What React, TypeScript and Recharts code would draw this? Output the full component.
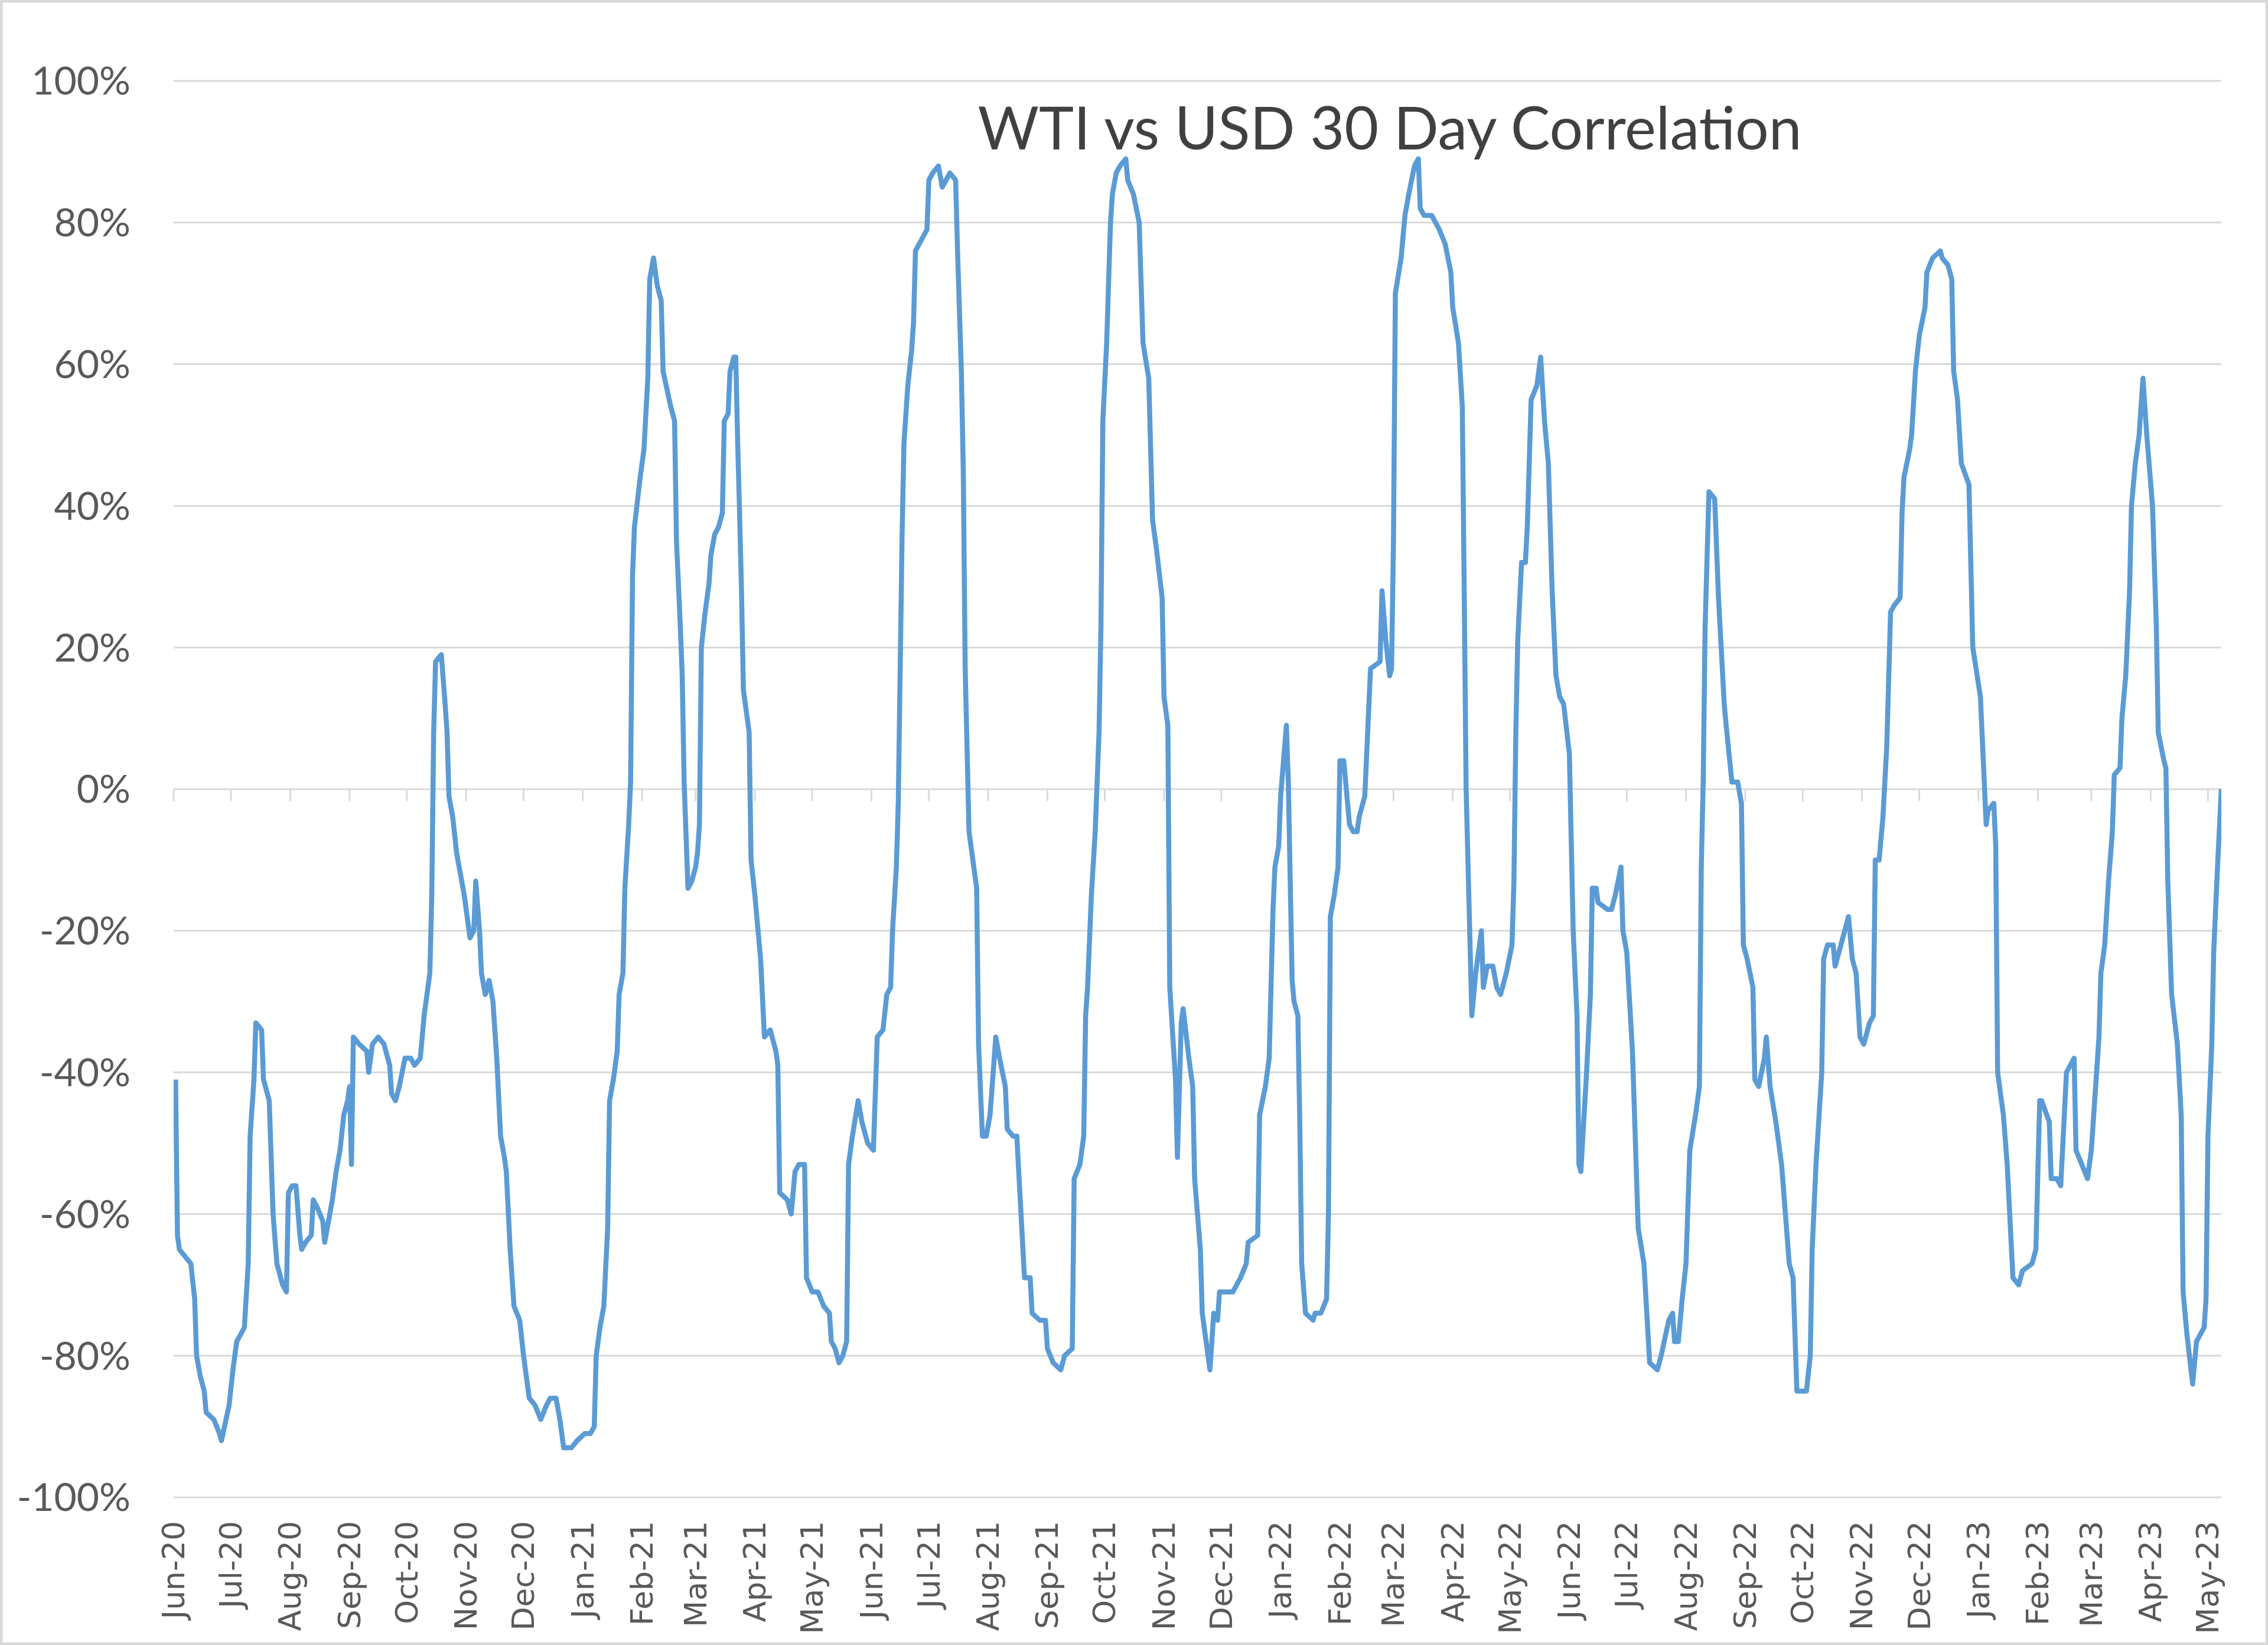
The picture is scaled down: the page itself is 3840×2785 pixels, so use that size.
import { LineChart, Line, XAxis, YAxis, CartesianGrid, ReferenceLine } from "recharts";

const MONTHS = ["Jan", "Feb", "Mar", "Apr", "May", "Jun", "Jul", "Aug", "Sep", "Oct", "Nov", "Dec"];

// month labels along the bottom, one per month start
const tickMonths = [
  "Jun-20", "Jul-20", "Aug-20", "Sep-20", "Oct-20", "Nov-20", "Dec-20",
  "Jan-21", "Feb-21", "Mar-21", "Apr-21", "May-21", "Jun-21", "Jul-21", "Aug-21", "Sep-21", "Oct-21", "Nov-21", "Dec-21",
  "Jan-22", "Feb-22", "Mar-22", "Apr-22", "May-22", "Jun-22", "Jul-22", "Aug-22", "Sep-22", "Oct-22", "Nov-22", "Dec-22",
  "Jan-23", "Feb-23", "Mar-23", "Apr-23", "May-23",
];

const yTicks = [-100, -80, -60, -40, -20, 0, 20, 40, 60, 80, 100];

// 30 day correlation (%)
const readings2020: [string, number][] = [
  ["2020-06-02", -41], ["2020-06-03", -63], ["2020-06-04", -65], ["2020-06-07", -66], ["2020-06-10", -67],
  ["2020-06-12", -72], ["2020-06-13", -80], ["2020-06-15", -83], ["2020-06-17", -85], ["2020-06-18", -88],
  ["2020-06-22", -89], ["2020-06-25", -91], ["2020-06-26", -92], ["2020-06-30", -87],
  ["2020-07-02", -82], ["2020-07-04", -78], ["2020-07-08", -76], ["2020-07-10", -67], ["2020-07-11", -49],
  ["2020-07-13", -41], ["2020-07-14", -33], ["2020-07-17", -34], ["2020-07-18", -41], ["2020-07-21", -44],
  ["2020-07-23", -60], ["2020-07-25", -67], ["2020-07-28", -70], ["2020-07-30", -71], ["2020-07-31", -57],
  ["2020-08-02", -56], ["2020-08-04", -56], ["2020-08-06", -63], ["2020-08-07", -65], ["2020-08-09", -64],
  ["2020-08-12", -63], ["2020-08-13", -58], ["2020-08-15", -59], ["2020-08-18", -61], ["2020-08-19", -64],
  ["2020-08-21", -61], ["2020-08-23", -58], ["2020-08-25", -54], ["2020-08-27", -51], ["2020-08-29", -46],
  ["2020-08-31", -44],
  ["2020-09-01", -42], ["2020-09-02", -53], ["2020-09-03", -35], ["2020-09-06", -36], ["2020-09-10", -37],
  ["2020-09-11", -40], ["2020-09-13", -36], ["2020-09-16", -35], ["2020-09-19", -36], ["2020-09-22", -39],
  ["2020-09-23", -43], ["2020-09-25", -44], ["2020-09-27", -42], ["2020-09-30", -38],
  ["2020-10-03", -38], ["2020-10-05", -39], ["2020-10-08", -38], ["2020-10-10", -32], ["2020-10-13", -26],
  ["2020-10-14", -15], ["2020-10-15", 8], ["2020-10-16", 18], ["2020-10-19", 19], ["2020-10-21", 12],
  ["2020-10-22", 8], ["2020-10-23", -1], ["2020-10-25", -4], ["2020-10-27", -9], ["2020-10-29", -12],
  ["2020-10-31", -15],
  ["2020-11-02", -19], ["2020-11-03", -21], ["2020-11-05", -20], ["2020-11-06", -13], ["2020-11-08", -20],
  ["2020-11-09", -26], ["2020-11-11", -29], ["2020-11-13", -27], ["2020-11-15", -30], ["2020-11-17", -38],
  ["2020-11-19", -49], ["2020-11-21", -52], ["2020-11-22", -54], ["2020-11-24", -65], ["2020-11-26", -73],
  ["2020-11-29", -75],
  ["2020-12-01", -80], ["2020-12-04", -86], ["2020-12-07", -87], ["2020-12-10", -89], ["2020-12-13", -87],
  ["2020-12-15", -86], ["2020-12-18", -86], ["2020-12-20", -89], ["2020-12-22", -93], ["2020-12-26", -93],
  ["2020-12-29", -92],
];

const readings2021: [string, number][] = [
  ["2021-01-02", -91], ["2021-01-05", -91], ["2021-01-07", -90], ["2021-01-08", -80], ["2021-01-10", -76],
  ["2021-01-12", -73], ["2021-01-14", -62], ["2021-01-15", -44], ["2021-01-17", -41], ["2021-01-19", -37],
  ["2021-01-20", -29], ["2021-01-22", -26], ["2021-01-23", -14], ["2021-01-25", -5], ["2021-01-26", 1],
  ["2021-01-27", 30], ["2021-01-28", 37], ["2021-01-31", 44],
  ["2021-02-02", 48], ["2021-02-04", 58], ["2021-02-05", 72], ["2021-02-07", 75], ["2021-02-09", 71],
  ["2021-02-11", 69], ["2021-02-12", 59], ["2021-02-16", 54], ["2021-02-18", 52], ["2021-02-19", 35],
  ["2021-02-21", 23], ["2021-02-22", 16], ["2021-02-23", 1], ["2021-02-25", -14], ["2021-02-27", -13],
  ["2021-03-01", -11], ["2021-03-02", -9], ["2021-03-03", -5], ["2021-03-04", 20], ["2021-03-06", 25],
  ["2021-03-08", 29], ["2021-03-09", 33], ["2021-03-11", 36], ["2021-03-13", 37], ["2021-03-15", 39],
  ["2021-03-16", 52], ["2021-03-18", 53], ["2021-03-19", 59], ["2021-03-21", 61], ["2021-03-22", 61],
  ["2021-03-23", 49], ["2021-03-24", 39], ["2021-03-25", 28], ["2021-03-26", 14], ["2021-03-29", 8],
  ["2021-03-30", -10],
  ["2021-04-01", -15], ["2021-04-04", -24], ["2021-04-06", -35], ["2021-04-09", -34], ["2021-04-12", -37],
  ["2021-04-13", -39], ["2021-04-14", -57], ["2021-04-18", -58], ["2021-04-20", -60], ["2021-04-22", -54],
  ["2021-04-24", -53], ["2021-04-27", -53], ["2021-04-28", -69],
  ["2021-05-01", -71], ["2021-05-04", -71], ["2021-05-07", -73], ["2021-05-10", -74], ["2021-05-11", -78],
  ["2021-05-13", -79], ["2021-05-15", -81], ["2021-05-17", -80], ["2021-05-19", -78], ["2021-05-20", -53],
  ["2021-05-22", -49], ["2021-05-25", -44], ["2021-05-27", -47], ["2021-05-30", -50],
  ["2021-06-02", -51], ["2021-06-04", -35], ["2021-06-07", -34], ["2021-06-09", -29], ["2021-06-11", -28],
  ["2021-06-12", -20], ["2021-06-14", -11], ["2021-06-15", -2], ["2021-06-17", 36], ["2021-06-18", 49],
  ["2021-06-20", 57], ["2021-06-22", 62], ["2021-06-23", 66], ["2021-06-24", 76], ["2021-06-30", 79],
  ["2021-07-01", 86], ["2021-07-03", 87], ["2021-07-06", 88], ["2021-07-08", 85], ["2021-07-10", 86],
  ["2021-07-12", 87], ["2021-07-15", 86], ["2021-07-16", 76], ["2021-07-18", 59], ["2021-07-19", 45],
  ["2021-07-20", 17], ["2021-07-22", -6], ["2021-07-24", -10], ["2021-07-26", -14], ["2021-07-27", -36],
  ["2021-07-29", -49], ["2021-07-31", -49],
  ["2021-08-02", -46], ["2021-08-05", -35], ["2021-08-07", -38], ["2021-08-10", -42], ["2021-08-11", -48],
  ["2021-08-14", -49], ["2021-08-16", -49], ["2021-08-18", -59], ["2021-08-20", -69], ["2021-08-23", -69],
  ["2021-08-24", -74], ["2021-08-28", -75], ["2021-08-31", -75],
  ["2021-09-01", -79], ["2021-09-04", -81], ["2021-09-08", -82], ["2021-09-10", -80], ["2021-09-14", -79],
  ["2021-09-15", -55], ["2021-09-18", -53], ["2021-09-20", -49], ["2021-09-21", -32], ["2021-09-22", -28],
  ["2021-09-24", -15], ["2021-09-26", -6], ["2021-09-28", 8], ["2021-09-29", 23], ["2021-09-30", 52],
  ["2021-10-02", 63], ["2021-10-04", 80], ["2021-10-05", 84], ["2021-10-07", 87], ["2021-10-09", 88],
  ["2021-10-12", 89], ["2021-10-13", 86], ["2021-10-16", 84], ["2021-10-19", 80], ["2021-10-21", 63],
  ["2021-10-24", 58], ["2021-10-26", 38], ["2021-10-28", 34], ["2021-10-31", 27],
  ["2021-11-01", 13], ["2021-11-03", 9], ["2021-11-04", -28], ["2021-11-07", -41], ["2021-11-08", -52],
  ["2021-11-10", -33], ["2021-11-11", -31], ["2021-11-14", -38], ["2021-11-16", -42], ["2021-11-17", -55],
  ["2021-11-20", -65], ["2021-11-21", -74], ["2021-11-24", -80], ["2021-11-25", -82], ["2021-11-27", -74],
  ["2021-11-29", -75], ["2021-11-30", -71],
  ["2021-12-04", -71], ["2021-12-07", -71], ["2021-12-11", -69], ["2021-12-14", -67], ["2021-12-15", -64],
  ["2021-12-20", -63], ["2021-12-21", -46], ["2021-12-24", -42], ["2021-12-26", -38], ["2021-12-28", -17],
  ["2021-12-29", -11], ["2021-12-31", -8],
];

const readings2022: [string, number][] = [
  ["2022-01-01", -1], ["2022-01-04", 9], ["2022-01-05", 1], ["2022-01-07", -27], ["2022-01-08", -30],
  ["2022-01-10", -32], ["2022-01-11", -47], ["2022-01-12", -67], ["2022-01-14", -74], ["2022-01-18", -75],
  ["2022-01-19", -74], ["2022-01-22", -74], ["2022-01-25", -72], ["2022-01-26", -60], ["2022-01-27", -18],
  ["2022-01-29", -15], ["2022-01-31", -11],
  ["2022-02-01", 4], ["2022-02-03", 4], ["2022-02-05", -2], ["2022-02-06", -5], ["2022-02-08", -6],
  ["2022-02-10", -6], ["2022-02-11", -4], ["2022-02-14", -1], ["2022-02-17", 17], ["2022-02-22", 18],
  ["2022-02-23", 28], ["2022-02-25", 21], ["2022-02-27", 16], ["2022-02-28", 17],
  ["2022-03-01", 35], ["2022-03-02", 70], ["2022-03-05", 75], ["2022-03-07", 81], ["2022-03-09", 84],
  ["2022-03-12", 88], ["2022-03-14", 89], ["2022-03-15", 82], ["2022-03-17", 81], ["2022-03-21", 81],
  ["2022-03-25", 79], ["2022-03-28", 77], ["2022-03-31", 73],
  ["2022-04-01", 68], ["2022-04-04", 63], ["2022-04-06", 54], ["2022-04-07", 28], ["2022-04-08", 0],
  ["2022-04-11", -32], ["2022-04-13", -26], ["2022-04-16", -20], ["2022-04-17", -28], ["2022-04-19", -25],
  ["2022-04-22", -25], ["2022-04-24", -28], ["2022-04-26", -29], ["2022-04-29", -26],
  ["2022-05-02", -22], ["2022-05-03", -13], ["2022-05-04", 8], ["2022-05-05", 21], ["2022-05-07", 32],
  ["2022-05-09", 32], ["2022-05-10", 37], ["2022-05-12", 55], ["2022-05-15", 57], ["2022-05-17", 61],
  ["2022-05-19", 52], ["2022-05-21", 46], ["2022-05-23", 28], ["2022-05-25", 16], ["2022-05-27", 13],
  ["2022-05-29", 12],
  ["2022-06-01", 5], ["2022-06-03", -20], ["2022-06-05", -32], ["2022-06-06", -53], ["2022-06-07", -54],
  ["2022-06-10", -40], ["2022-06-12", -29], ["2022-06-13", -14], ["2022-06-15", -14], ["2022-06-16", -16],
  ["2022-06-21", -17], ["2022-06-23", -17], ["2022-06-25", -15], ["2022-06-28", -11], ["2022-06-29", -20],
  ["2022-07-01", -23], ["2022-07-04", -37], ["2022-07-07", -62], ["2022-07-10", -67], ["2022-07-13", -81],
  ["2022-07-17", -82], ["2022-07-19", -80], ["2022-07-23", -75], ["2022-07-25", -74], ["2022-07-26", -78],
  ["2022-07-28", -78], ["2022-07-30", -72],
  ["2022-08-01", -67], ["2022-08-03", -51], ["2022-08-06", -46], ["2022-08-08", -42], ["2022-08-09", -11],
  ["2022-08-10", 1], ["2022-08-11", 23], ["2022-08-13", 42], ["2022-08-16", 41], ["2022-08-18", 27],
  ["2022-08-21", 12], ["2022-08-22", 9], ["2022-08-25", 1], ["2022-08-26", 1], ["2022-08-28", 1],
  ["2022-08-30", -2], ["2022-08-31", -22],
  ["2022-09-02", -24], ["2022-09-05", -28], ["2022-09-06", -41], ["2022-09-08", -42], ["2022-09-11", -38],
  ["2022-09-12", -35], ["2022-09-14", -42], ["2022-09-17", -47], ["2022-09-20", -53], ["2022-09-22", -60],
  ["2022-09-24", -67], ["2022-09-26", -69], ["2022-09-28", -85],
  ["2022-10-01", -85], ["2022-10-03", -85], ["2022-10-05", -80], ["2022-10-06", -65], ["2022-10-08", -53],
  ["2022-10-11", -40], ["2022-10-12", -24], ["2022-10-14", -22], ["2022-10-17", -22], ["2022-10-18", -25],
  ["2022-10-21", -22], ["2022-10-23", -20], ["2022-10-25", -18], ["2022-10-27", -24], ["2022-10-29", -26],
  ["2022-10-31", -35],
  ["2022-11-02", -36], ["2022-11-05", -33], ["2022-11-07", -32], ["2022-11-08", -10], ["2022-11-10", -10],
  ["2022-11-12", -4], ["2022-11-14", 6], ["2022-11-16", 25], ["2022-11-18", 26], ["2022-11-21", 27],
  ["2022-11-22", 39], ["2022-11-23", 44], ["2022-11-26", 48], ["2022-11-27", 50], ["2022-11-29", 59],
  ["2022-12-01", 64], ["2022-12-04", 68], ["2022-12-05", 73], ["2022-12-08", 75], ["2022-12-12", 76],
  ["2022-12-13", 75], ["2022-12-16", 74], ["2022-12-18", 72], ["2022-12-19", 59], ["2022-12-21", 55],
  ["2022-12-23", 46], ["2022-12-27", 43], ["2022-12-29", 20],
];

const readings2023: [string, number][] = [
  ["2023-01-02", 13], ["2023-01-05", -5], ["2023-01-06", -3], ["2023-01-09", -2], ["2023-01-10", -8],
  ["2023-01-11", -40], ["2023-01-14", -46], ["2023-01-16", -53], ["2023-01-19", -69], ["2023-01-22", -70],
  ["2023-01-24", -68], ["2023-01-29", -67], ["2023-01-31", -65],
  ["2023-02-02", -44], ["2023-02-03", -44], ["2023-02-07", -47], ["2023-02-08", -55], ["2023-02-11", -55],
  ["2023-02-13", -56], ["2023-02-16", -40], ["2023-02-20", -38], ["2023-02-21", -51], ["2023-02-24", -53],
  ["2023-02-27", -55],
  ["2023-03-01", -51], ["2023-03-05", -35], ["2023-03-06", -26], ["2023-03-08", -22], ["2023-03-10", -13],
  ["2023-03-12", -6], ["2023-03-13", 2], ["2023-03-16", 3], ["2023-03-17", 10], ["2023-03-19", 16],
  ["2023-03-21", 28], ["2023-03-22", 40], ["2023-03-24", 46], ["2023-03-26", 50], ["2023-03-28", 58],
  ["2023-03-30", 50],
  ["2023-04-02", 40], ["2023-04-04", 23], ["2023-04-05", 8], ["2023-04-08", 4], ["2023-04-09", 3],
  ["2023-04-10", -13], ["2023-04-12", -29], ["2023-04-15", -36], ["2023-04-17", -46], ["2023-04-18", -71],
  ["2023-04-20", -77], ["2023-04-23", -84], ["2023-04-25", -78], ["2023-04-29", -76], ["2023-04-30", -72],
  ["2023-05-01", -49], ["2023-05-03", -36], ["2023-05-04", -23], ["2023-05-06", -11], ["2023-05-08", 0],
];

const DAY_MS = 86400000;
const toDay = (iso: string) => Date.parse(iso) / DAY_MS;
const monthToDay = (label: string) => {
  const [mon, yy] = label.split("-");
  return Date.UTC(2000 + Number(yy), MONTHS.indexOf(mon), 1) / DAY_MS;
};

const data = [...readings2020, ...readings2021, ...readings2022, ...readings2023].map(([date, value]) => ({
  day: toDay(date),
  value,
}));

const tickDays = tickMonths.map(monthToDay);
const labelByDay = new Map(tickDays.map((d, i) => [d, tickMonths[i]]));
const startDay = toDay("2020-06-01");
const endDay = toDay("2023-05-08");

const GRID = "#d9d9d9";
const TEXT = "#595959";

function MonthTick(props: any) {
  const { x, y, payload } = props;
  return (
    <text
      x={x}
      y={y}
      transform={`rotate(-90, ${x}, ${y})`}
      textAnchor="end"
      dominantBaseline="central"
      fontFamily="'DejaVu Sans', sans-serif"
      fontSize={52}
      fill={TEXT}
    >
      {labelByDay.get(payload.value)}
    </text>
  );
}

export default function App() {
  return (
    <div style={{ position: "absolute", left: 0, top: 0, width: 3840, height: 2785, background: "#fff" }}>
      <LineChart width={3840} height={2785} data={data} margin={{ top: 137, right: 79, bottom: 0, left: 0 }}>
        <CartesianGrid vertical={false} stroke={GRID} strokeWidth={3} />
        <XAxis
          type="number"
          dataKey="day"
          domain={[startDay, endDay]}
          ticks={tickDays}
          interval={0}
          tick={<MonthTick />}
          axisLine={false}
          tickLine={false}
          tickSize={0}
          tickMargin={40}
          height={250}
          allowDataOverflow
        />
        <YAxis
          domain={[-100, 100]}
          ticks={yTicks}
          interval={0}
          tickFormatter={(v) => `${v}%`}
          tick={{ fill: TEXT, fontSize: 66, fontFamily: "Lato, sans-serif" }}
          axisLine={false}
          tickLine={false}
          tickSize={0}
          tickMargin={73}
          width={294}
        />
        {tickDays.map((d) => (
          <ReferenceLine
            key={d}
            segment={[{ x: d, y: 0 }, { x: d, y: -1.7 }]}
            stroke={GRID}
            strokeWidth={3}
          />
        ))}
        <Line
          type="linear"
          dataKey="value"
          stroke="#5b9bd5"
          strokeWidth={8.5}
          strokeLinejoin="round"
          dot={false}
          isAnimationActive={false}
        />
      </LineChart>
      <svg
        width={3840}
        height={2785}
        style={{ position: "absolute", left: 0, top: 0, pointerEvents: "none" }}
      >
        <rect x={2} y={2} width={3836} height={2781} fill="none" stroke={GRID} strokeWidth={5} />
        <text x={2353} y={253} textAnchor="middle" fontFamily="Lato, sans-serif" fontSize={100} fill="#404040">
          WTI vs USD 30 Day Correlation
        </text>
      </svg>
    </div>
  );
}
